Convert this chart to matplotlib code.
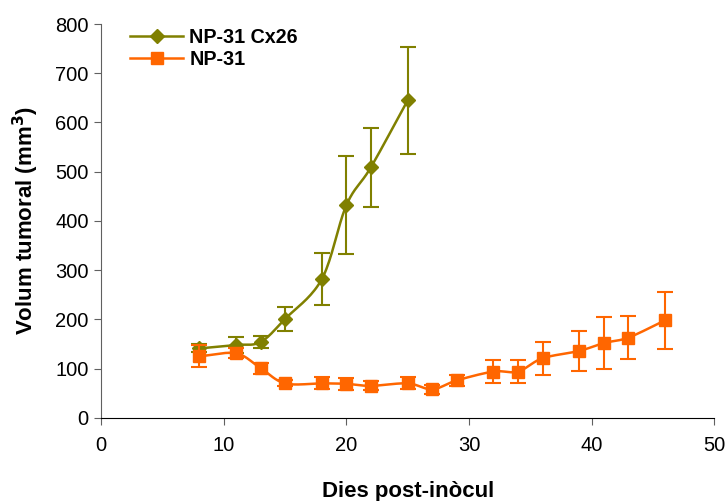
import numpy as np
import matplotlib.pyplot as plt

plt.rcParams['font.family'] = ['Liberation Sans', 'DejaVu Sans']

dies_cx = [8, 11, 13, 15, 18, 20, 22, 25]
vol_cx = [141, 148, 154, 201, 282, 432, 509, 645]
err_cx = [8, 17, 12, 25, 52, 100, 80, 108]

dies_np = [8, 11, 13, 15, 18, 20, 22, 25, 27, 29, 32, 34, 36, 39, 41, 43, 46]
vol_np = [125, 131, 101, 70, 70, 69, 65, 70, 58, 76, 94, 94, 121, 136, 152, 163, 198]
err_np = [22, 10, 11, 6, 12, 12, 9, 12, 9, 12, 24, 23, 33, 40, 52, 43, 58]

verd = '#808000'
taronja = '#FF6600'
gris = '#606060'


def suau(x, y, n=20):
    # corba tipus Catmull-Rom (linia suavitzada com a Excel)
    x = np.asarray(x, float)
    y = np.asarray(y, float)
    px = np.concatenate([[2 * x[0] - x[1]], x, [2 * x[-1] - x[-2]]])
    py = np.concatenate([[2 * y[0] - y[1]], y, [2 * y[-1] - y[-2]]])
    cx, cy = [], []
    t = np.linspace(0, 1, n)
    for i in range(1, len(px) - 2):
        for p, c in ((px, cx), (py, cy)):
            p0, p1, p2, p3 = p[i - 1], p[i], p[i + 1], p[i + 2]
            c.extend(0.5 * ((2 * p1) + (-p0 + p2) * t
                            + (2 * p0 - 5 * p1 + 4 * p2 - p3) * t ** 2
                            + (-p0 + 3 * p1 - 3 * p2 + p3) * t ** 3))
    return cx, cy


fig = plt.figure(figsize=(7.28, 5.01), dpi=100)
ax = fig.add_axes([0.139, 0.166, 0.842, 0.786])

for d, v, e, col, mk, ms, lab in [(dies_cx, vol_cx, err_cx, verd, 'D', 7, 'NP-31 Cx26'),
                                  (dies_np, vol_np, err_np, taronja, 's', 8, 'NP-31')]:
    sx, sy = suau(d, v)
    ax.plot(sx, sy, color=col, lw=1.8)
    ax.errorbar(d, v, yerr=e, fmt='none', ecolor=col, elinewidth=1.5, capsize=6, capthick=1.5)
    ax.plot(d, v, linestyle='none', marker=mk, ms=ms, color=col)
    ax.plot([], [], color=col, lw=1.8, marker=mk, ms=ms, label=lab)

ax.set_xlim(0, 50)
ax.set_ylim(0, 800)
ax.set_xticks(range(0, 51, 10))
ax.set_yticks(range(0, 801, 100))
ax.tick_params(labelsize=14.5, direction='out', length=5, color=gris)
ax.tick_params(axis='x', pad=8)
ax.tick_params(axis='y', pad=4)
ax.spines['top'].set_visible(False)
ax.spines['right'].set_visible(False)
ax.spines['left'].set_color(gris)
ax.spines['bottom'].set_color('black')
ax.set_xlabel('Dies post-inòcul', fontsize=16, fontweight='bold', labelpad=19)
ax.set_ylabel('Volum tumoral (mm$^\\mathbf{3}$)', fontsize=16, fontweight='bold', labelpad=10)
ax.legend(loc='upper left', bbox_to_anchor=(0.018, 1.035), frameon=False,
          prop={'weight': 'bold', 'size': 14.2}, handlelength=2.7, handletextpad=0.3,
          labelspacing=0.15)

fig.savefig('out.png', dpi=100)
